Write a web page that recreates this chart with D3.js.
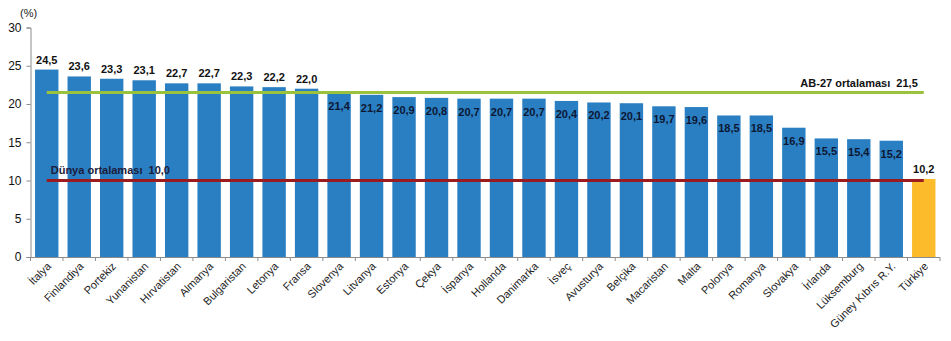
<!DOCTYPE html>
<html>
<head>
<meta charset="utf-8">
<script src="https://cdn.jsdelivr.net/npm/d3@7"></script>
<style>
  html, body { margin: 0; padding: 0; background: #fff; }
  svg { display: block; font-family: "Liberation Sans", Arial, sans-serif; }
</style>
</head>
<body>
<svg id="chart" width="951" height="341"></svg>
<script>
// Countries, ordered by share (%)
const countries = ["İtalya", "Finlandiya", "Portekiz", "Yunanistan", "Hırvatistan", "Almanya",
  "Bulgaristan", "Letonya", "Fransa", "Slovenya", "Litvanya", "Estonya", "Çekya", "İspanya",
  "Hollanda", "Danimarka", "İsveç", "Avusturya", "Belçika", "Macaristan", "Malta", "Polonya",
  "Romanya", "Slovakya", "İrlanda", "Lüksemburg", "Güney Kıbrıs R.Y.", "Türkiye"];
const values = [24.5, 23.6, 23.3, 23.1, 22.7, 22.7, 22.3, 22.2, 22.0, 21.4, 21.2, 20.9, 20.8, 20.7,
  20.7, 20.7, 20.4, 20.2, 20.1, 19.7, 19.6, 18.5, 18.5, 16.9, 15.5, 15.4, 15.2, 10.2];
const yTicks = [0, 5, 10, 15, 20, 25, 30];
const highlight = "Türkiye";

// Reference averages
const euAverage = 21.5;
const worldAverage = 10.0;
const euLabel = "AB-27 ortalaması";
const worldLabel = "Dünya ortalaması";

const fmt = v => d3.format(".1f")(v).replace(".", ",");

const svg = d3.select("#chart");
const plotLeft = 30.5, plotRight = 940, plotTop = 27.5, plotBottom = 257;

const x = d3.scaleBand().domain(countries).range([plotLeft, plotRight])
  .paddingInner(0.28).paddingOuter(0.14);
const y = d3.scaleLinear().domain([0, 30]).range([plotBottom, plotTop]);

// Bars
svg.append("g").selectAll("rect")
  .data(countries.map((c, i) => ({ c, v: values[i] })))
  .join("rect")
  .attr("x", d => x(d.c))
  .attr("y", d => y(d.v))
  .attr("width", x.bandwidth())
  .attr("height", d => y(0) - y(d.v))
  .attr("fill", d => d.c === highlight ? "#fbbb2b" : "#2a7fc2");

// Y axis
const yAxis = svg.append("g")
  .attr("transform", `translate(${plotLeft},0)`)
  .call(d3.axisLeft(y).tickValues(yTicks).tickSize(4).tickPadding(5).tickFormat(d3.format("d")));
yAxis.select(".domain").attr("stroke", "#8c8c8c");
yAxis.selectAll(".tick line").attr("stroke", "#8c8c8c");
yAxis.selectAll(".tick text").attr("font-size", 12).attr("fill", "#111")
  .attr("font-family", "Liberation Sans, Arial, sans-serif");

svg.append("text").attr("x", 20).attr("y", 17).attr("font-size", 11).attr("fill", "#222")
  .text("(%)");

// X axis: ticks at band boundaries
const step = x.step();
const boundaries = countries.map((c, i) => plotLeft + i * step).concat([plotRight]);
svg.append("line").attr("x1", plotLeft).attr("x2", plotRight)
  .attr("y1", plotBottom + 0.5).attr("y2", plotBottom + 0.5)
  .attr("stroke", "#8c8c8c");
svg.append("g").selectAll("line").data(boundaries).join("line")
  .attr("x1", d => d).attr("x2", d => d)
  .attr("y1", plotBottom).attr("y2", plotBottom + 4)
  .attr("stroke", "#8c8c8c");

// Category labels, rotated
svg.append("g").selectAll("text").data(countries).join("text")
  .attr("transform", d => `translate(${x(d) + x.bandwidth() / 2 + 5},${plotBottom + 10}) rotate(-45)`)
  .attr("text-anchor", "end")
  .attr("font-size", 11)
  .attr("fill", "#222")
  .text(d => d);

// Average lines
const xStart = x(countries[0]) + x.bandwidth() / 2;
const xEnd = x(highlight) + x.bandwidth() / 2;
svg.append("line").attr("x1", xStart).attr("x2", xEnd)
  .attr("y1", y(euAverage)).attr("y2", y(euAverage))
  .attr("stroke", "#9bc23c").attr("stroke-width", 3);
svg.append("line").attr("x1", xStart).attr("x2", xEnd)
  .attr("y1", y(worldAverage)).attr("y2", y(worldAverage))
  .attr("stroke", "#9a1c1f").attr("stroke-width", 3);

svg.append("text").attr("x", xEnd - 6).attr("y", y(euAverage) - 6)
  .attr("text-anchor", "end").attr("font-size", 11).attr("font-weight", "bold").attr("fill", "#111")
  .attr("xml:space", "preserve")
  .text(`${euLabel}  ${fmt(euAverage)}`);
svg.append("text").attr("x", xStart + 4).attr("y", y(worldAverage) - 7)
  .attr("font-size", 11).attr("font-weight", "bold").attr("fill", "#1b1b3a")
  .attr("xml:space", "preserve")
  .text(`${worldLabel}  ${fmt(worldAverage)}`);

// Value labels: above bars over the EU average (and the highlight), inside otherwise
svg.append("g").selectAll("text")
  .data(countries.map((c, i) => ({ c, v: values[i] })))
  .join("text")
  .attr("x", d => x(d.c) + x.bandwidth() / 2)
  .attr("y", d => (d.v > euAverage || d.c === highlight) ? y(d.v) - 6 : y(d.v) + 17)
  .attr("text-anchor", "middle")
  .attr("font-size", 11)
  .attr("font-weight", "bold")
  .attr("fill", d => (d.v > euAverage || d.c === highlight) ? "#111" : "#0d1733")
  .text(d => fmt(d.v));
</script>
</body>
</html>
